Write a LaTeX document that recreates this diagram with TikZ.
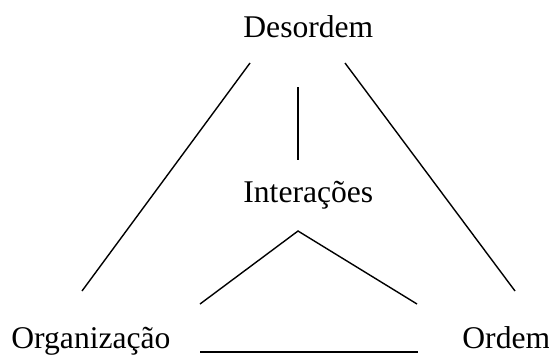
\documentclass[tikz,border=0pt]{standalone}
\usepackage{fontspec}
\setmainfont{Liberation Serif}
\begin{document}
\begin{tikzpicture}[x=0.5pt,y=-0.5pt,
  lbl/.style={inner sep=0pt,anchor=base west,font=\fontsize{15.8pt}{19pt}\selectfont},
  ln/.style={line width=0.7pt},
  thk/.style={line width=1pt}]
\useasboundingbox (0,0) rectangle (549,354);
\node[lbl] (des) at (243,37) {Desordem};
\node[lbl] (int) at (243,202) {Interações};
\node[lbl] (org) at (11,348) {Organização};
\node[lbl] (ord) at (462,348) {Ordem};
\coordinate (l1) at (250,63);
\coordinate (l2) at (82,291);
\coordinate (r1) at (345,63);
\coordinate (r2) at (515,291);
\coordinate (v1) at (298,87);
\coordinate (v2) at (298,160);
\coordinate (c1) at (200,304);
\coordinate (c2) at (298,231);
\coordinate (c3) at (417,304);
\coordinate (h1) at (200,352);
\coordinate (h2) at (418,352);
\draw[ln] (l1) -- (l2);
\draw[ln] (r1) -- (r2);
\draw[ln] (v1) -- (v2);
\draw[ln] (c1) -- (c2) -- (c3);
\draw[thk] (h1) -- (h2);
\end{tikzpicture}
\end{document}
